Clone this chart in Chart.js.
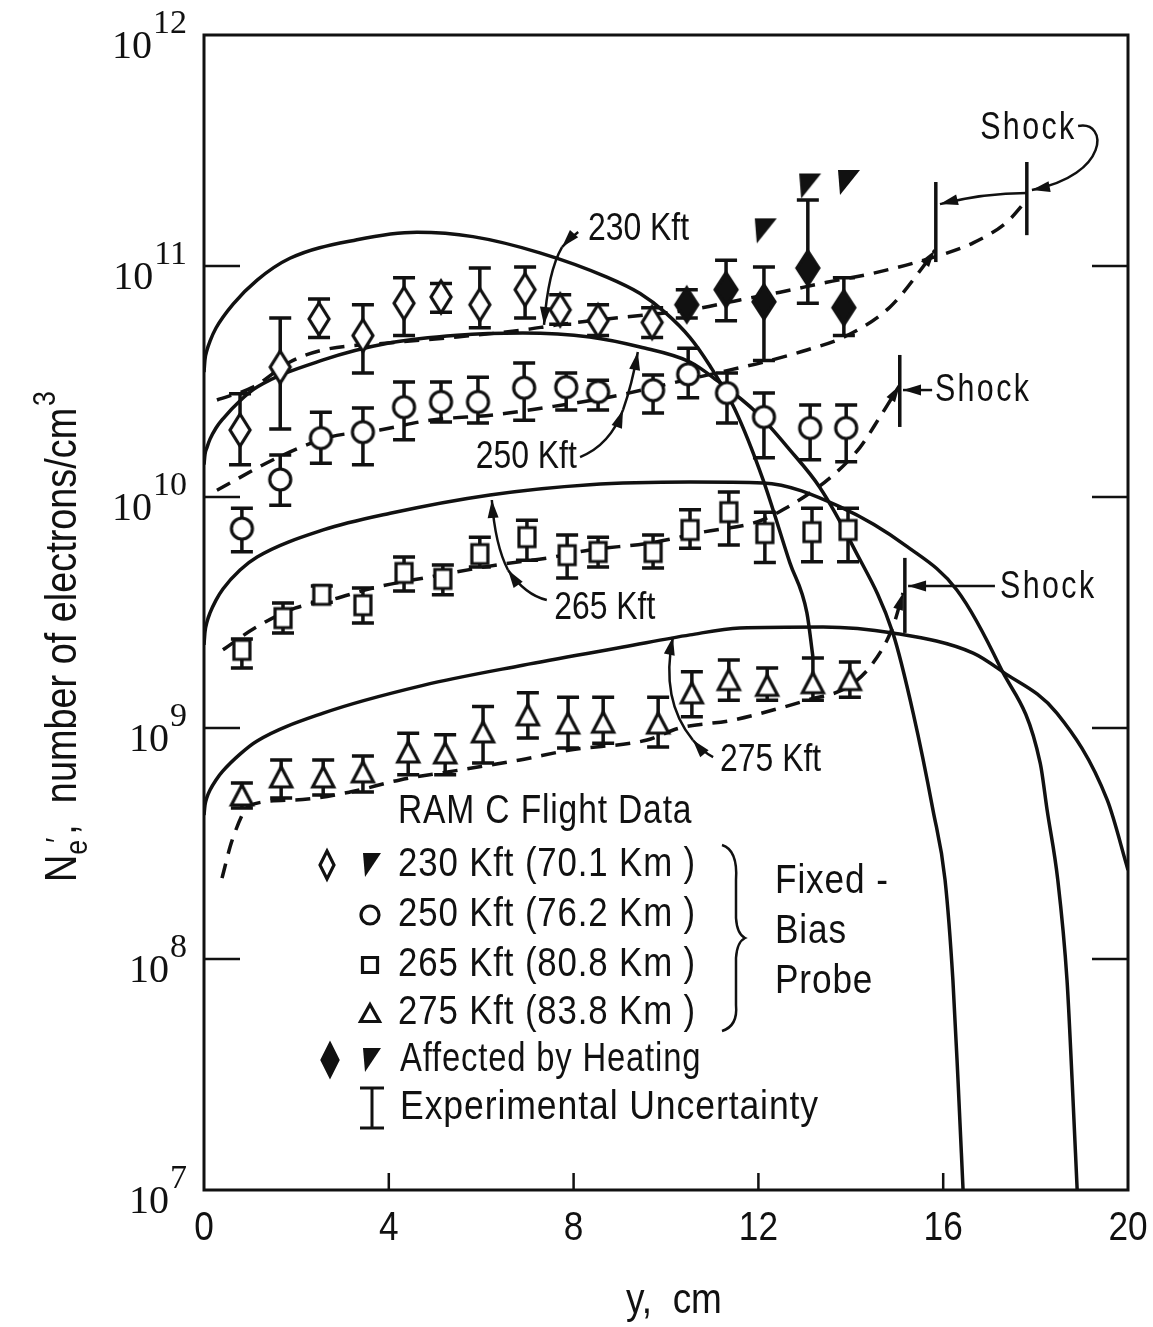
<!DOCTYPE html>
<html lang="en">
<head>
<meta charset="utf-8">
<title>RAM C electron density profiles</title>
<script src="https://cdn.jsdelivr.net/npm/chart.js@4.4.1/dist/chart.umd.min.js"></script>
<style>
  html, body { margin: 0; background: #fff; }
  .chart-box { position: relative; width: 1153px; height: 1327px; }
</style>
</head>
<body>
<div class="chart-box"><canvas id="neChart"></canvas></div>
<script>
const INK = '#111';
const SANS = '"Liberation Sans", Arial, sans-serif';
const SERIF = '"Liberation Serif", "DejaVu Serif", serif';

// axis ticks
const xTicks = [0, 4, 8, 12, 16, 20];
const yTicks = [1e7, 1e8, 1e9, 1e10, 1e11, 1e12];

// RAM C flight data, fixed-bias probe: y (cm), Ne (electrons/cm^3), uncertainty band
const y230 = [0.78, 1.65, 2.49, 3.44, 4.33, 5.13, 5.97, 6.95, 7.71, 8.53, 9.70];
const ne230 = [1.95e10, 3.65e10, 5.9e10, 5.0e10, 6.9e10, 7.35e10, 6.8e10, 7.9e10, 6.46e10, 5.8e10, 5.7e10];
const lo230 = [1.38e10, 1.97e10, 4.9e10, 3.44e10, 5.0e10, 6.3e10, 5.4e10, 5.95e10, 5.6e10, 5.0e10, 4.9e10];
const hi230 = [2.8e10, 5.95e10, 7.2e10, 6.8e10, 8.9e10, 8.4e10, 9.8e10, 9.9e10, 7.5e10, 6.8e10, 6.6e10];

// 230 Kft points affected by heating
const yHeat = [10.45, 11.30, 12.12, 13.07, 13.85];
const neHeat = [6.8e10, 7.9e10, 7.0e10, 9.8e10, 6.6e10];
const loHeat = [5.95e10, 5.8e10, 3.9e10, 6.9e10, 5.0e10];
const hiHeat = [7.9e10, 1.06e11, 9.9e10, 1.93e11, 8.9e10];
const yHeatB = [12.16, 13.12, 13.96];
const neHeatB = [1.42e11, 2.22e11, 2.3e11];

const y250 = [0.82, 1.65, 2.53, 3.44, 4.33, 5.13, 5.93, 6.93, 7.84, 8.53, 9.72, 10.48, 11.32, 12.12, 13.12, 13.90];
const ne250 = [7.3e9, 1.19e10, 1.8e10, 1.91e10, 2.45e10, 2.58e10, 2.58e10, 2.97e10, 2.99e10, 2.85e10, 2.9e10, 3.4e10, 2.82e10, 2.22e10, 1.99e10, 1.99e10];
const lo250 = [5.8e9, 9.2e9, 1.4e10, 1.38e10, 1.77e10, 2.11e10, 2.09e10, 2.15e10, 2.38e10, 2.38e10, 2.31e10, 2.69e10, 2.09e10, 1.48e10, 1.45e10, 1.42e10];
const hi250 = [8.95e9, 1.52e10, 2.33e10, 2.43e10, 3.15e10, 3.15e10, 3.3e10, 3.8e10, 3.44e10, 3.2e10, 3.37e10, 4.4e10, 3.44e10, 2.82e10, 2.5e10, 2.5e10];

const y265 = [0.82, 1.71, 2.55, 3.44, 4.33, 5.17, 5.97, 6.99, 7.86, 8.53, 9.72, 10.52, 11.36, 12.14, 13.16, 13.94];
const ne265 = [2.18e9, 2.99e9, 3.77e9, 3.4e9, 4.69e9, 4.42e9, 5.66e9, 6.7e9, 5.6e9, 5.78e9, 5.78e9, 7.2e9, 8.6e9, 6.98e9, 7.05e9, 7.2e9];
const lo265 = [1.82e9, 2.58e9, 3.5e9, 2.85e9, 3.92e9, 3.77e9, 4.98e9, 5.33e9, 4.46e9, 4.98e9, 4.93e9, 6.0e9, 6.2e9, 5.2e9, 5.24e9, 5.24e9];
const hi265 = [2.43e9, 3.48e9, 4.12e9, 4.04e9, 5.5e9, 5.08e9, 6.7e9, 7.94e9, 6.84e9, 6.7e9, 6.84e9, 8.8e9, 1.05e10, 8.6e9, 8.95e9, 8.95e9];

const y275 = [0.82, 1.67, 2.58, 3.44, 4.42, 5.22, 6.04, 7.01, 7.88, 8.64, 9.83, 10.56, 11.36, 12.19, 13.18, 13.98];
const ne275 = [5.13e8, 6.14e8, 6.14e8, 6.46e8, 7.87e8, 7.8e8, 9.62e8, 1.14e9, 1.05e9, 1.06e9, 1.05e9, 1.42e9, 1.62e9, 1.53e9, 1.57e9, 1.62e9];
const lo275 = [4.5e8, 4.98e8, 5.13e8, 5.28e8, 6.27e8, 6.27e8, 7.05e8, 9.06e8, 8.2e8, 8.6e8, 8.28e8, 1.12e9, 1.32e9, 1.32e9, 1.32e9, 1.36e9];
const hi275 = [5.78e8, 7.26e8, 7.26e8, 7.57e8, 9.5e8, 9.34e8, 1.24e9, 1.42e9, 1.36e9, 1.36e9, 1.36e9, 1.75e9, 1.97e9, 1.82e9, 2.01e9, 1.93e9];

// calculated profiles (solid)
const thY230 = [0, 0.022, 0.065, 0.13, 0.26, 0.63, 1.15, 1.86, 3.31, 4.61, 5.82, 7.27, 8.72, 9.44, 9.98, 10.52, 10.95, 11.49, 12.10, 12.68, 13.05, 13.18];
const th230 = [3.47e10, 3.95e10, 4.33e10, 4.73e10, 5.39e10, 6.84e10, 8.69e10, 1.08e11, 1.30e11, 1.40e11, 1.34e11, 1.14e11, 8.95e10, 7.6e10, 6.3e10, 4.9e10, 3.7e10, 2.4e10, 1.19e10, 5.2e9, 3.15e9, 2.03e9];
const thY250 = [0, 0.022, 0.065, 0.13, 0.26, 0.41, 0.78, 1.15, 2.58, 4.03, 5.48, 6.9, 8.35, 9.44, 10.52, 11.1, 11.97, 12.68, 13.33, 14.05, 14.91, 15.35, 15.78, 16.04, 16.21, 16.32, 16.43];
const th250 = [1.38e10, 1.53e10, 1.64e10, 1.78e10, 1.99e10, 2.18e10, 2.61e10, 2.99e10, 3.92e10, 4.65e10, 5.02e10, 5.13e10, 4.93e10, 4.46e10, 3.84e10, 3.2e10, 2.31e10, 1.6e10, 1.1e10, 6.1e9, 2.58e9, 1.16e9, 4.4e8, 2.2e8, 8.1e7, 3.0e7, 1e7];
const thY265 = [0, 0.022, 0.065, 0.13, 0.26, 0.41, 0.78, 1.15, 2.58, 4.03, 6.19, 8.35, 10.52, 12.1, 13.77, 15.22, 16.3, 17.23, 18.1, 18.25, 18.48, 18.68, 18.79, 18.9];
const th265 = [2.29e9, 2.61e9, 2.88e9, 3.15e9, 3.58e9, 4.0e9, 4.83e9, 5.5e9, 7.2e9, 8.5e9, 1.02e10, 1.13e10, 1.16e10, 1.15e10, 9.06e9, 6.1e9, 3.95e9, 1.84e9, 7.05e8, 4.4e8, 2.2e8, 8.1e7, 3.0e7, 1e7];
const thY275 = [0, 0.022, 0.065, 0.13, 0.26, 0.41, 0.78, 1.15, 2.58, 4.74, 6.9, 9.07, 10.52, 11.6, 13.4, 14.91, 16.65, 17.29, 18.46, 19.55, 20];
const th275 = [4.2e8, 4.64e8, 5.02e8, 5.39e8, 5.96e8, 6.52e8, 7.71e8, 8.79e8, 1.16e9, 1.53e9, 1.87e9, 2.24e9, 2.53e9, 2.71e9, 2.74e9, 2.58e9, 2.11e9, 1.75e9, 1.16e9, 4.88e8, 2.43e8];

// faired flight data (dashed), each running out to its shock
const fitY230 = [0.28, 1.06, 1.86, 2.58, 4.03, 5.48, 6.9, 7.64, 9.07, 10.52, 11.6, 12.47, 13.48, 14.48, 15.78, 16.65, 17.38, 17.81];
const fit230 = [2.63e10, 2.99e10, 3.84e10, 4.33e10, 4.65e10, 4.93e10, 5.28e10, 5.56e10, 6.0e10, 6.46e10, 7.13e10, 7.7e10, 8.5e10, 9.3e10, 1.09e11, 1.26e11, 1.55e11, 1.93e11];
const fitY250 = [0.28, 1.65, 2.73, 3.81, 4.89, 6.3, 7.34, 8.79, 10.15, 11.39, 12.12, 13.05, 13.92, 14.85, 15.56, 15.82];
const fit250 = [1.07e10, 1.5e10, 1.82e10, 1.95e10, 2.15e10, 2.27e10, 2.43e10, 2.71e10, 3.12e10, 3.55e10, 3.84e10, 4.33e10, 5.0e10, 6.65e10, 9.9e10, 1.17e11];
const fitY265 = [0.41, 1.1, 1.97, 2.73, 3.66, 4.89, 6.34, 7.45, 8.35, 9.65, 10.8, 11.97, 12.53, 13.55, 14.2, 14.63, 15.06];
const fit265 = [2.18e9, 2.71e9, 3.3e9, 3.58e9, 4.04e9, 4.51e9, 5.08e9, 5.45e9, 5.9e9, 6.32e9, 7.05e9, 7.8e9, 8.8e9, 1.21e10, 1.64e10, 2.22e10, 3.05e10];
const fitY275 = [0.39, 0.61, 1.0, 1.97, 3.16, 4.24, 5.54, 6.84, 7.92, 9.59, 10.3, 11.43, 12.47, 13.05, 13.92, 14.48, 14.91, 15.13];
const fit275 = [2.24e8, 3.27e8, 4.64e8, 4.88e8, 5.28e8, 5.96e8, 6.58e8, 7.27e8, 8.03e8, 8.87e8, 1.0e9, 1.08e9, 1.22e9, 1.32e9, 1.5e9, 1.91e9, 2.74e9, 3.84e9];

// shock locations: y (cm) and the Ne span of the marker
const shockY = [17.81, 15.84, 15.06, 15.17];
const shockLo = [1.36e11, 1.04e11, 2.01e10, 2.58e9];
const shockHi = [2.82e11, 2.31e11, 4.12e10, 5.45e9];

// ---- marker glyphs ----
function finish(g, filled) {
  g.fillStyle = filled ? INK : '#fff';
  g.fill();
  g.lineWidth = 3.2;
  g.strokeStyle = INK;
  g.lineJoin = 'miter';
  g.stroke();
}
const shapes = {
  diamond(g, w, h, filled) {
    g.beginPath();
    g.moveTo(0, -h / 2); g.lineTo(w / 2, 0); g.lineTo(0, h / 2); g.lineTo(-w / 2, 0);
    g.closePath(); finish(g, filled);
  },
  circle(g, w) {
    g.beginPath(); g.arc(0, 0, w / 2, 0, Math.PI * 2); finish(g, false);
  },
  square(g, w, h) {
    g.beginPath(); g.rect(-w / 2, -h / 2, w, h); finish(g, false);
  },
  triangle(g, w, h) {
    g.beginPath();
    g.moveTo(0, -h / 2); g.lineTo(w / 2, h / 2); g.lineTo(-w / 2, h / 2);
    g.closePath(); finish(g, false);
  },
  wedge(g, w, h) {
    g.beginPath();
    g.moveTo(-w / 2, -h / 2); g.lineTo(w / 2, -h / 2); g.lineTo(-w / 2 + 2, h / 2);
    g.closePath();
    g.fillStyle = INK; g.fill();
  }
};
function glyph(kind, w, h, filled) {
  const c = document.createElement('canvas');
  c.width = w + 8; c.height = h + 8;
  const g = c.getContext('2d');
  g.translate(c.width / 2, c.height / 2);
  shapes[kind](g, w, h, filled);
  return c;
}

// condensed lettering: draw with a horizontal squeeze, honouring textAlign
function narrowText(ctx, text, x, y, sx = 0.88) {
  const w = ctx.measureText(text).width * sx;
  const align = ctx.textAlign;
  const x0 = align === 'right' ? x - w : align === 'center' ? x - w / 2 : x;
  ctx.save();
  ctx.textAlign = 'left';
  ctx.translate(x0, y);
  ctx.scale(sx, 1);
  ctx.fillText(text, 0, 0);
  ctx.restore();
  return w;
}

const pts = (xs, vs) => xs.map((v, i) => ({ x: v, y: vs[i] }));
const profile = (xs, vs, dashed, tip) => ({
  data: pts(xs, vs), showLine: true, borderColor: INK, borderWidth: 3.5,
  borderDash: dashed ? [15, 10] : [], pointRadius: 0,
  cubicInterpolationMode: 'monotone', order: 1, tip: !!tip
});
const markers = (xs, vs, style, lo, hi) => ({
  data: pts(xs, vs), showLine: false, pointStyle: style, pointRadius: 12, order: 0, lo, hi
});

function arrowHead(ctx, tx, ty, fx, fy, len = 18, half = 5.5) {
  const a = Math.atan2(ty - fy, tx - fx);
  const bx = tx - len * Math.cos(a), by = ty - len * Math.sin(a);
  ctx.beginPath();
  ctx.moveTo(tx, ty);
  ctx.lineTo(bx + half * Math.sin(a), by - half * Math.cos(a));
  ctx.lineTo(bx - half * Math.sin(a), by + half * Math.cos(a));
  ctx.closePath();
  ctx.fill();
}

// labels tied to the curves: text, a short lead onto one curve, a bend onto the other
const curveLabels = [
  { text: '230 Kft', at: [8.31, 11.156], align: 'left',
    lead: [[8.1, 11.147], [7.92, 11.12], [7.75, 11.082]],
    bend: [[7.75, 11.082], [7.45, 10.98], [7.36, 10.745]] },
  { text: '250 Kft', at: [8.07, 10.169], align: 'right',
    lead: [[8.14, 10.173], [8.79, 10.225], [9.07, 10.377]],
    bend: [[9.07, 10.377], [9.26, 10.485], [9.39, 10.628]] },
  { text: '265 Kft', at: [7.58, 9.519], align: 'left',
    lead: [[7.42, 9.554], [6.95, 9.576], [6.58, 9.684]],
    bend: [[6.58, 9.684], [6.3, 9.792], [6.23, 9.987]] },
  { text: '275 Kft', at: [11.17, 8.861], align: 'left',
    lead: [[11.02, 8.874], [10.8, 8.896], [10.58, 8.948]],
    bend: [[10.58, 8.948], [9.87, 9.121], [10.15, 9.394]] }
];
const shockLabels = [
  { at: [16.8, 11.597] },
  { at: [15.82, 10.463], arrow: [[15.76, 10.463], [15.13, 10.463]] },
  { at: [17.23, 9.606], arrow: [[17.12, 9.615], [15.24, 9.615]] }
];

const figurePlugin = {
  id: 'figure',
  beforeDatasetsDraw(chart) {
    // experimental uncertainty bars, under the symbols
    const { ctx, scales: { x, y } } = chart;
    ctx.save();
    ctx.strokeStyle = INK;
    ctx.lineWidth = 3.5;
    chart.data.datasets.forEach(ds => {
      if (!ds.lo) return;
      ds.data.forEach((p, i) => {
        const px = x.getPixelForValue(p.x);
        const top = y.getPixelForValue(ds.hi[i]);
        const bot = y.getPixelForValue(ds.lo[i]);
        ctx.beginPath();
        ctx.moveTo(px, top); ctx.lineTo(px, bot);
        ctx.moveTo(px - 11, top); ctx.lineTo(px + 11, top);
        ctx.moveTo(px - 11, bot); ctx.lineTo(px + 11, bot);
        ctx.stroke();
      });
    });
    ctx.restore();
  },
  afterDatasetsDraw(chart) {
    const { ctx, scales: { x, y } } = chart;
    ctx.save();
    ctx.fillStyle = INK;
    ctx.strokeStyle = INK;
    // arrowheads where the dashed fits run into a shock
    chart.data.datasets.forEach((ds, i) => {
      if (!ds.tip) return;
      const els = chart.getDatasetMeta(i).data;
      const last = els[els.length - 1];
      arrowHead(ctx, last.x, last.y, last.cp1x, last.cp1y, 17, 5);
    });
    // shock markers
    ctx.lineWidth = 3.5;
    shockY.forEach((s, i) => {
      const px = x.getPixelForValue(s);
      ctx.beginPath();
      ctx.moveTo(px, y.getPixelForValue(shockHi[i]));
      ctx.lineTo(px, y.getPixelForValue(shockLo[i]));
      ctx.stroke();
    });
    ctx.restore();
  },
  afterDraw(chart) {
    const { ctx, chartArea: a, scales: { x, y } } = chart;
    const at = (cx, lg) => [x.getPixelForValue(cx), y.getPixelForValue(Math.pow(10, lg))];
    ctx.save();
    ctx.fillStyle = INK;
    ctx.strokeStyle = INK;

    // frame and inward ticks
    ctx.lineWidth = 3;
    ctx.strokeRect(a.left, a.top, a.right - a.left, a.bottom - a.top);
    ctx.lineWidth = 2.5;
    ctx.beginPath();
    yTicks.slice(1, -1).forEach(v => {
      const py = y.getPixelForValue(v);
      ctx.moveTo(a.left, py); ctx.lineTo(a.left + 36, py);
      ctx.moveTo(a.right - 36, py); ctx.lineTo(a.right, py);
    });
    xTicks.slice(1, -1).forEach(v => {
      const px = x.getPixelForValue(v);
      ctx.moveTo(px, a.bottom); ctx.lineTo(px, a.bottom - 17);
    });
    ctx.stroke();

    // tick labels
    ctx.textBaseline = 'alphabetic';
    ctx.textAlign = 'right';
    yTicks.forEach(v => {
      const py = y.getPixelForValue(v);
      const exp = String(Math.round(Math.log10(v)));
      ctx.font = `34px ${SERIF}`;
      const ew = ctx.measureText(exp).width;
      ctx.fillText(exp, a.left - 17, py - 2);
      ctx.font = `40px ${SERIF}`;
      ctx.fillText('10', a.left - 18 - ew, py + 23);
    });
    ctx.textAlign = 'center';
    ctx.font = `40px ${SANS}`;
    xTicks.forEach(v => narrowText(ctx, String(v), x.getPixelForValue(v), a.bottom + 50));

    // axis titles
    ctx.font = `42px ${SANS}`;
    narrowText(ctx, 'y,  cm', (a.left + a.right) / 2 + 8, a.bottom + 123);
    ctx.save();
    ctx.translate(76, 882);
    ctx.rotate(-Math.PI / 2);
    ctx.scale(0.86, 1);
    ctx.textAlign = 'left';
    let cx = 0;
    ctx.font = `44px ${SANS}`;
    ctx.fillText('N', cx, 0); cx += ctx.measureText('N').width;
    ctx.font = `31px ${SANS}`;
    ctx.fillText('e', cx, 11);
    ctx.fillText('\u2032', cx + 14, -8);
    cx += ctx.measureText('e').width + 6;
    ctx.font = `44px ${SANS}`;
    const title = ',  number of electrons/cm';
    ctx.fillText(title, cx, 0); cx += ctx.measureText(title).width;
    ctx.font = `31px ${SANS}`;
    ctx.fillText('3', cx + 2, -21);
    ctx.restore();

    // curve labels with their arrows
    ctx.lineWidth = 2.5;
    const quad = (p, head) => {
      const [s, c, e] = p.map(q => at(q[0], q[1]));
      ctx.beginPath(); ctx.moveTo(s[0], s[1]); ctx.quadraticCurveTo(c[0], c[1], e[0], e[1]); ctx.stroke();
      if (head) arrowHead(ctx, e[0], e[1], c[0], c[1]);
    };
    ctx.font = `38px ${SANS}`;
    ctx.textBaseline = 'middle';
    curveLabels.forEach(l => {
      const [tx, ty] = at(l.at[0], l.at[1]);
      ctx.textAlign = l.align;
      narrowText(ctx, l.text, tx, ty, 0.84);
      quad(l.lead, true);
      quad(l.bend, true);
    });

    // shock call-outs
    ctx.textAlign = 'left';
    ctx.letterSpacing = '3px';
    shockLabels.forEach(l => {
      const [tx, ty] = at(l.at[0], l.at[1]);
      narrowText(ctx, 'Shock', tx, ty, 0.8);
      if (l.arrow) {
        const [s, e] = l.arrow.map(q => at(q[0], q[1]));
        ctx.beginPath(); ctx.moveTo(s[0], s[1]); ctx.lineTo(e[0], e[1]); ctx.stroke();
        arrowHead(ctx, e[0], e[1], s[0], s[1]);
      }
    });
    ctx.letterSpacing = '0px';
    {
      const s = at(18.92, 11.606), c1 = at(19.57, 11.632), c2 = at(19.61, 11.394), e = at(17.92, 11.329);
      ctx.beginPath(); ctx.moveTo(s[0], s[1]); ctx.bezierCurveTo(c1[0], c1[1], c2[0], c2[1], e[0], e[1]); ctx.stroke();
      arrowHead(ctx, e[0], e[1], c2[0], c2[1]);
      quad([[17.81, 11.316], [16.9, 11.316], [15.93, 11.268]], true);
    }

    // key
    const key = (kind, cx, cy, w, h, filled) => {
      ctx.save(); ctx.translate(cx, cy); shapes[kind](ctx, w, h, filled); ctx.restore();
      ctx.fillStyle = INK; ctx.strokeStyle = INK;
    };
    ctx.textAlign = 'left';
    ctx.font = `40px ${SANS}`;
    ctx.letterSpacing = '1px';
    narrowText(ctx, 'RAM C Flight Data', 398, 812, 0.84);
    const rows = [
      ['230 Kft (70.1 Km )', 865], ['250 Kft (76.2 Km )', 915],
      ['265 Kft (80.8 Km )', 965], ['275 Kft (83.8 Km )', 1013]
    ];
    rows.forEach(r => narrowText(ctx, r[0], 398, r[1], 0.87));
    narrowText(ctx, 'Affected by Heating', 400, 1060, 0.82);
    narrowText(ctx, 'Experimental Uncertainty', 400, 1108, 0.89);
    narrowText(ctx, 'Fixed -', 775, 882);
    narrowText(ctx, 'Bias', 775, 932);
    narrowText(ctx, 'Probe', 775, 982);
    ctx.letterSpacing = '0px';
    key('diamond', 327, 865, 14, 28, false);
    key('wedge', 372, 865, 18, 24);
    key('circle', 370, 915, 18, 18);
    key('square', 370, 965, 15, 15);
    key('triangle', 370, 1013, 19, 17);
    key('diamond', 330, 1060, 16, 32, true);
    key('wedge', 372, 1060, 18, 24);
    ctx.lineWidth = 3;
    ctx.beginPath();
    ctx.moveTo(372, 1088); ctx.lineTo(372, 1128);
    ctx.moveTo(360, 1088); ctx.lineTo(384, 1088);
    ctx.moveTo(360, 1128); ctx.lineTo(384, 1128);
    ctx.stroke();
    // brace grouping the four altitudes
    ctx.lineWidth = 2.5;
    ctx.beginPath();
    ctx.moveTo(722, 845);
    ctx.quadraticCurveTo(738, 850, 736, 880);
    ctx.lineTo(736, 918);
    ctx.quadraticCurveTo(737, 934, 745, 938);
    ctx.quadraticCurveTo(737, 942, 736, 958);
    ctx.lineTo(736, 1005);
    ctx.quadraticCurveTo(738, 1026, 722, 1031);
    ctx.stroke();
    ctx.restore();
  }
};

new Chart(document.getElementById('neChart'), {
  type: 'scatter',
  data: {
    datasets: [
      markers(y230, ne230, glyph('diamond', 20, 32, false), lo230, hi230),
      markers(yHeat, neHeat, glyph('diamond', 22, 34, true), loHeat, hiHeat),
      markers(yHeatB, neHeatB, glyph('wedge', 22, 25)),
      markers(y250, ne250, glyph('circle', 21, 21), lo250, hi250),
      markers(y265, ne265, glyph('square', 16, 19), lo265, hi265),
      markers(y275, ne275, glyph('triangle', 21, 20), lo275, hi275),
      profile(thY230, th230, false),
      profile(thY250, th250, false),
      profile(thY265, th265, false),
      profile(thY275, th275, false),
      profile(fitY230, fit230, true),
      profile(fitY250, fit250, true, true),
      profile(fitY265, fit265, true, true),
      profile(fitY275, fit275, true, true)
    ]
  },
  options: {
    responsive: true,
    maintainAspectRatio: false,
    animation: false,
    events: [],
    layout: { padding: { left: 204, right: 25, top: 35, bottom: 137 } },
    plugins: { legend: { display: false }, tooltip: { enabled: false } },
    scales: {
      x: { type: 'linear', min: 0, max: 20, display: false },
      y: { type: 'logarithmic', min: 1e7, max: 1e12, display: false }
    }
  },
  plugins: [figurePlugin]
});
</script>
</body>
</html>
